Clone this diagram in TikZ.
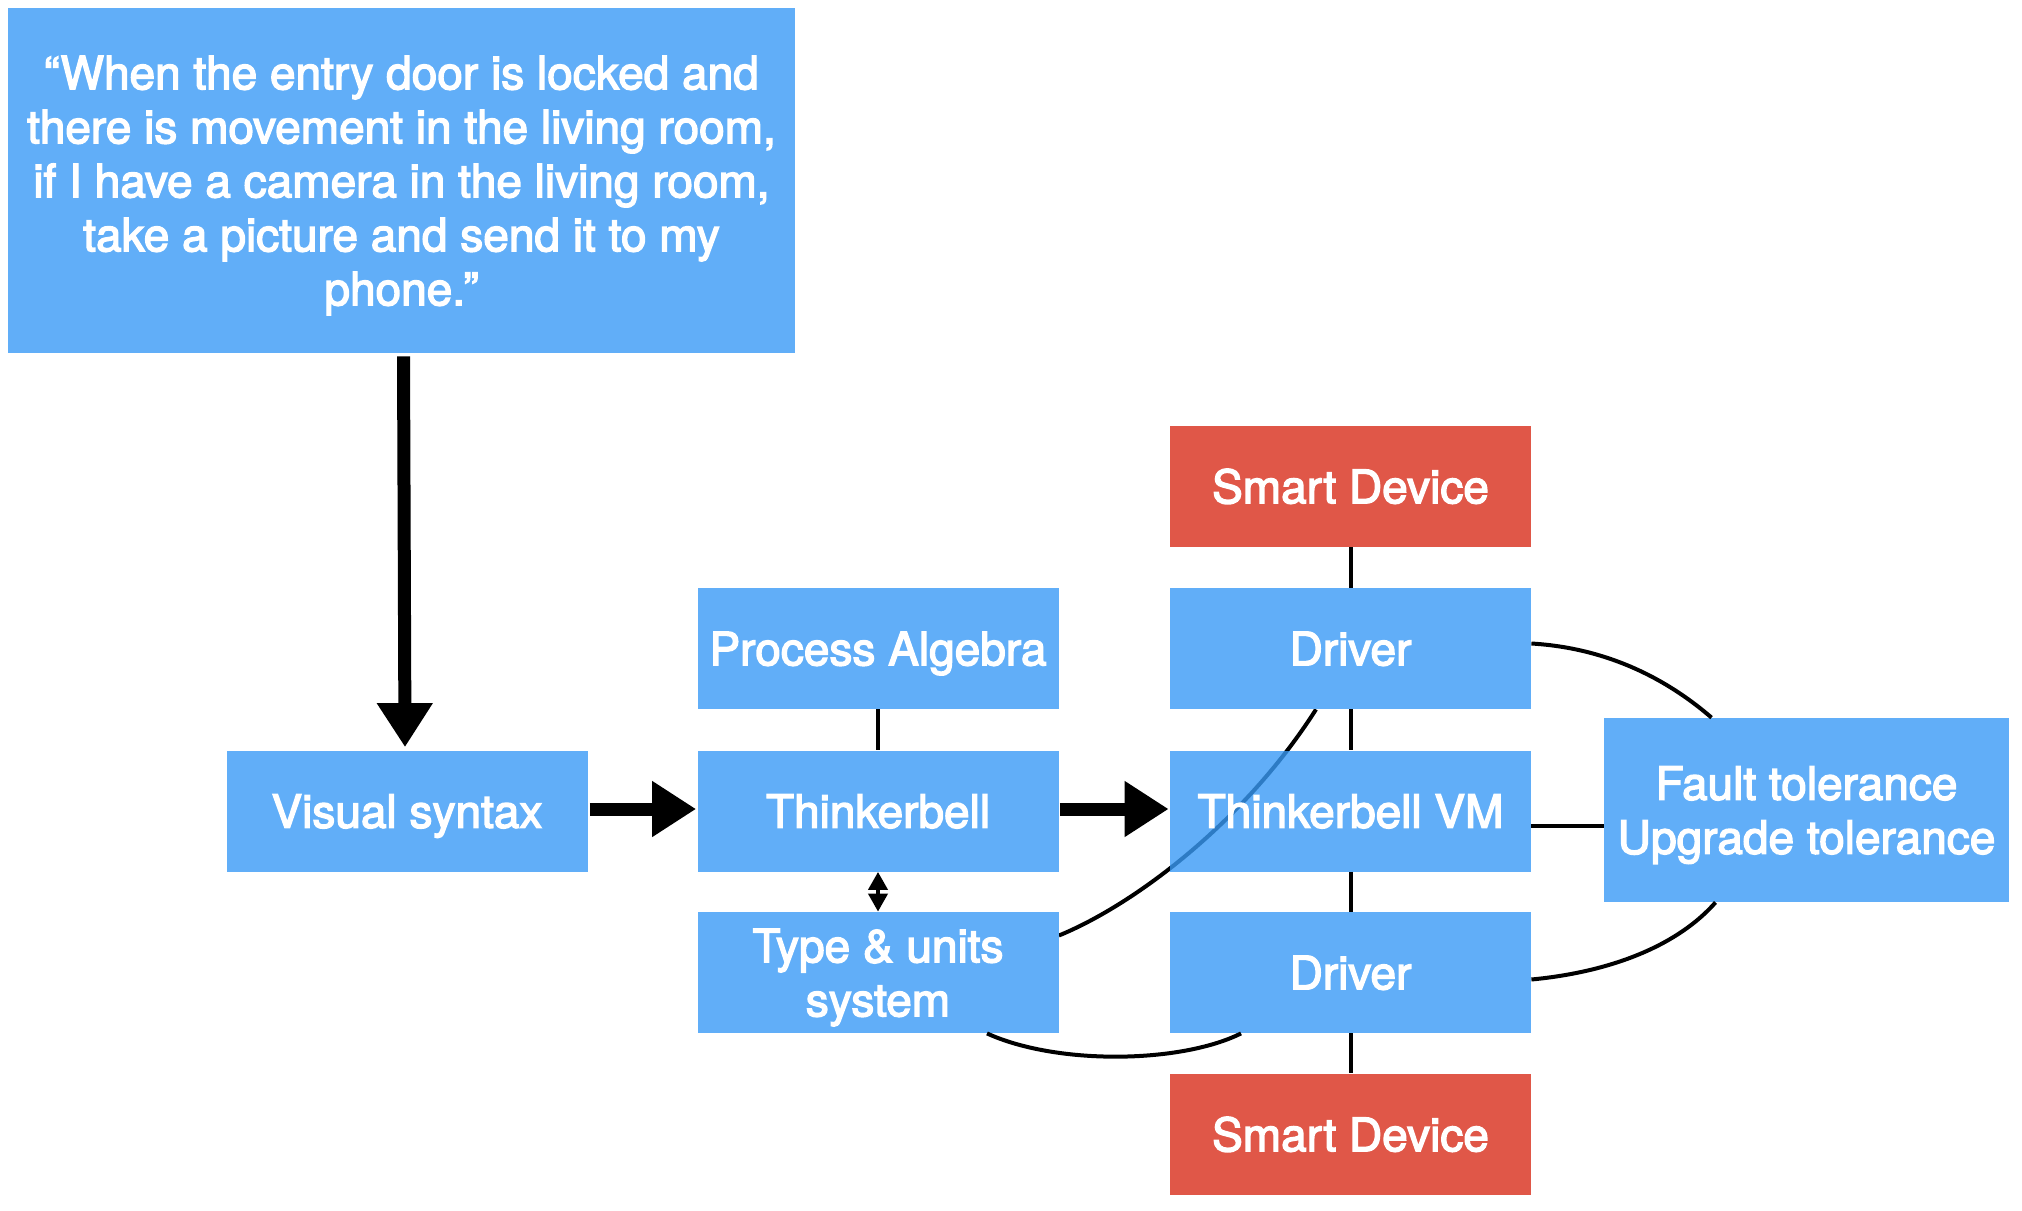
\documentclass[tikz,border=0pt]{standalone}
\usepackage{fontspec}
\setmainfont{TeX Gyre Heros}[FakeBold=3]
\usetikzlibrary{arrows.meta,backgrounds,calc}
\definecolor{bxblue}{RGB}{97,174,248}
\definecolor{bxred}{RGB}{224,87,72}
\definecolor{bxblueT}{RGB}{57,154,246}
\tikzset{
  box/.style={fill=bxblue, text=white, minimum width=180.5pt, minimum height=60.5pt,
    inner sep=0pt, align=center, text depth=0pt, font=\fontsize{23}{27}\selectfont},
  dev/.style={box, fill=bxred},
  link/.style={line width=2pt, draw=black},
  bigarrow/.style={line width=6.5pt, draw=black, -{Triangle[width=26.5pt,length=22pt]}},
  dblarrow/.style={line width=2pt, draw=black, {Triangle[width=9.5pt,length=9pt]}-{Triangle[width=9.5pt,length=9pt]}},
}
\begin{document}
\begin{tikzpicture}[x=0.5pt,y=-0.5pt]
\useasboundingbox (0,0) rectangle (2022,1210);
\node[box, minimum width=393.5pt, minimum height=172.5pt] (quote) at (401.5,180.5)
  {“When the entry door is locked and\\there is movement in the living room,\\if I have a camera in the living room,\\take a picture and send it to my\\phone.”};
\node[box] (vis) at (407,811) {Visual syntax};
\node[box] (pa) at (878,648.5) {Process Algebra};
\node[box] (tb) at (878,811) {Thinkerbell};
\node[box] (tu) at (878,972.5) {Type \& units\\system};
\node[dev] (sd1) at (1350.5,486) {Smart Device};
\node[box] (dr1) at (1350.5,648.5) {Driver};
\node[box, fill=bxblueT, fill opacity=0.8, text opacity=1] (vm) at (1350.5,811) {Thinkerbell VM};
\node[box] (dr2) at (1350.5,972.5) {Driver};
\node[dev] (sd2) at (1350.5,1134) {Smart Device};
\node[box, minimum width=202.5pt, minimum height=92pt] (ft) at (1806.5,810)
  {Fault tolerance\\Upgrade tolerance};

\begin{pgfonlayer}{background}
\draw[link] ($(tu.east)+(0,-37)$) .. controls +(78,-32) and +(-70,110) .. ($(dr1.south)+(-34.5,0)$);
\end{pgfonlayer}

\draw[link] (pa) -- (tb);
\draw[link] (sd1) -- (dr1);
\draw[link] (dr1) -- (vm);
\draw[link] (vm) -- (dr2);
\draw[link] (dr2) -- (sd2);
\draw[dblarrow] (tb) -- (tu);

\draw[link] ($(dr1.east)+(0,-5)$) .. controls +(84,5) and +(-37,-32) .. ($(ft.north)+(-95,0)$);
\draw[link] ($(vm.east)+(0,15)$) -- ($(ft.west)+(0,16)$);
\draw[link] ($(dr2.east)+(0,7)$) .. controls +(84,-8) and +(-36,41) .. ($(ft.south)+(-91,0)$);
\draw[link] ($(tu.south)+(109,0)$) .. controls +(70,32) and +(-60,30) .. ($(dr2.south)+(-109.5,0)$);

\draw[bigarrow] ($(quote.south)+(2,3)$) -- ($(vis.north)+(-2,-3)$);
\draw[bigarrow] ($(vis.east)+(2,-2)$) -- ($(tb.west)+(-1,-2)$);
\draw[bigarrow] ($(tb.east)+(1,-2)$) -- ($(vm.west)+(-1,-2)$);
\end{tikzpicture}
\end{document}
